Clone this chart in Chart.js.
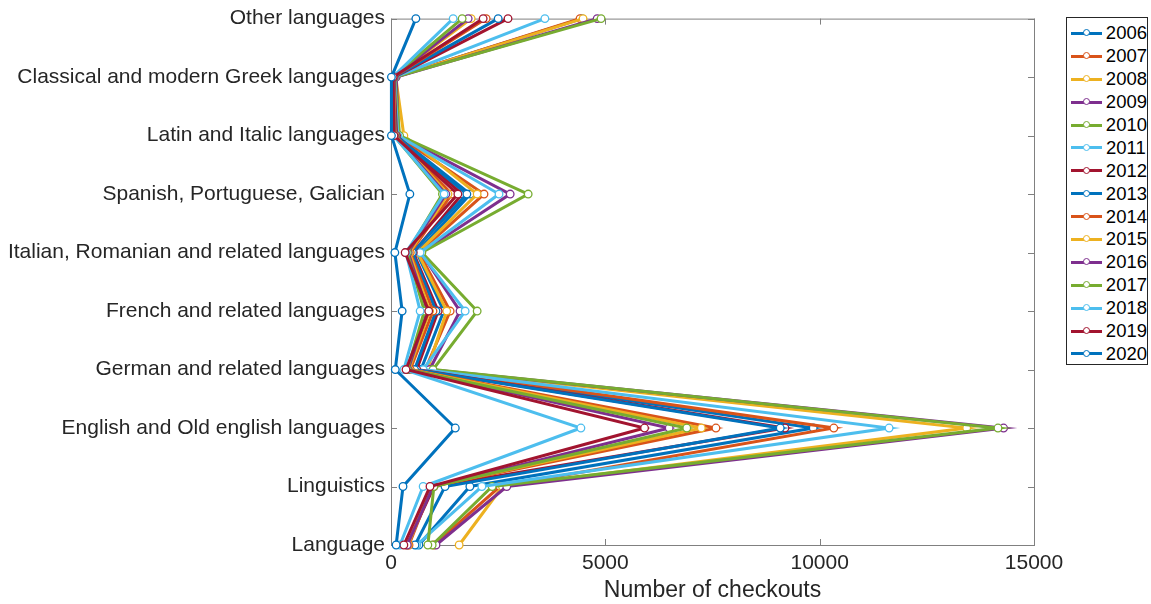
<!DOCTYPE html>
<html>
<head>
<meta charset="utf-8">
<script src="https://cdn.jsdelivr.net/npm/chart.js@4"></script>
<style>
  body { margin: 0; background: #fff; }
  #wrap { position: relative; width: 1151px; height: 604px; }
  #legend {
    position: absolute; left: 1066px; top: 17px; width: 82px; height: 348px;
    border: 1px solid #262626; background: #fff; box-sizing: border-box;
    padding-top: 4px; font-family: "Liberation Sans", Arial, sans-serif; font-size: 18.5px; color: #000;
  }
  .row { height: 22.9px; display: flex; align-items: center; }
  .sw { position: relative; width: 31px; height: 3px; margin-left: 4px; margin-right: 4px; }
  .sw span { position: absolute; left: 12px; top: -2.5px; width: 5px; height: 5px; border-radius: 50%; background: #fff; border: 1px solid; }
</style>
</head>
<body>
<div id="wrap">
  <canvas id="chart" width="1151" height="604"></canvas>
  <div id="legend"></div>
</div>
<script>
// categorias (de baixo para cima)
const categories = [
  'Language',
  'Linguistics',
  'English and Old english languages',
  'German and related languages',
  'French and related languages',
  'Italian, Romanian and related languages',
  'Spanish, Portuguese, Galician',
  'Latin and Italic languages',
  'Classical and modern Greek languages',
  'Other languages'
];

const years = ['2006','2007','2008','2009','2010','2011','2012','2013','2014','2015','2016','2017','2018','2019','2020'];

// empréstimos por ano, na ordem das categorias acima
const c2006 = [650, 1840, 9850, 700, 1230, 600, 1850, 120, 90, 4450];
const c2007 = [1000, 2540, 10330, 800, 1380, 650, 2170, 150, 100, 4410];
const c2008 = [1590, 2600, 13430, 850, 1300, 620, 2010, 300, 110, 4480];
const c2009 = [1050, 2700, 14290, 900, 1610, 700, 2780, 180, 120, 4810];
const c2010 = [960, 2360, 14160, 980, 2010, 720, 3200, 200, 90, 4900];
const c2011 = [600, 2120, 11620, 750, 1730, 680, 2520, 160, 80, 3590];
const c2012 = [370, 1000, 9190, 600, 1100, 520, 1660, 130, 70, 2730];
const c2013 = [560, 1260, 9080, 550, 1050, 500, 1770, 110, 60, 2500];
const c2014 = [420, 950, 7580, 450, 980, 450, 1420, 100, 60, 2220];
const c2015 = [400, 930, 7240, 420, 900, 430, 1330, 90, 50, 1870];
const c2016 = [380, 980, 6490, 400, 850, 400, 1280, 80, 50, 1800];
const c2017 = [860, 1000, 6900, 380, 780, 380, 1200, 70, 40, 1660];
const c2018 = [210, 750, 4430, 300, 680, 350, 1240, 60, 40, 1450];
const c2019 = [300, 910, 5915, 350, 880, 330, 1560, 70, 50, 2150];
const c2020 = [120, 280, 1500, 100, 260, 90, 440, 10, 10, 580];

const series = [c2006, c2007, c2008, c2009, c2010, c2011, c2012, c2013, c2014, c2015, c2016, c2017, c2018, c2019, c2020];

const xTicks = [0, 5000, 10000, 15000];

// cores padrão do MATLAB
const palette = ['#0072BD', '#D95319', '#EDB120', '#7E2F8E', '#77AC30', '#4DBEEE', '#A2142F'];

const FONT = '"Liberation Sans", Arial, Helvetica, sans-serif';
const AXIS = '#808080';

const datasets = series.map((vals, i) => ({
  label: years[i],
  data: vals,
  borderColor: palette[i % 7],
  backgroundColor: palette[i % 7],
  borderWidth: 3,
  pointRadius: 3.8,
  pointBorderWidth: 1.3,
  pointBackgroundColor: '#fff',
  pointBorderColor: palette[i % 7],
  tension: 0,
  clip: false,
  order: 14 - i
}));

// caixa e ticks para dentro, estilo MATLAB
const boxPlugin = {
  id: 'box',
  beforeDatasetsDraw(chart) {
    const { ctx, chartArea: a, scales } = chart;
    ctx.save();
    ctx.strokeStyle = AXIS;
    ctx.lineWidth = 1;
    ctx.strokeRect(a.left + 0.5, a.top + 0.5, a.right - a.left, a.bottom - a.top);
    const len = 6;
    ctx.beginPath();
    categories.forEach((c, i) => {
      const y = Math.round(scales.y.getPixelForValue(i)) + 0.5;
      ctx.moveTo(a.left, y); ctx.lineTo(a.left + len, y);
      ctx.moveTo(a.right, y); ctx.lineTo(a.right - len, y);
    });
    xTicks.forEach(v => {
      const x = Math.round(scales.x.getPixelForValue(v)) + 0.5;
      ctx.moveTo(x, a.bottom); ctx.lineTo(x, a.bottom - len);
      ctx.moveTo(x, a.top); ctx.lineTo(x, a.top + len);
    });
    ctx.stroke();
    ctx.restore();
  }
};

const ctx = document.getElementById('chart').getContext('2d');
new Chart(ctx, {
  type: 'line',
  data: { labels: categories, datasets },
  options: {
    indexAxis: 'y',
    responsive: false,
    animation: false,
    devicePixelRatio: 1,
    layout: { padding: { left: 0, top: 17, right: 117, bottom: 0 } },
    plugins: { legend: { display: false }, tooltip: { enabled: false } },
    scales: {
      y: {
        type: 'category',
        reverse: true,
        offset: false,
        grid: { display: false, drawTicks: false },
        border: { display: false },
        ticks: { color: '#262626', font: { family: FONT, size: 21 }, padding: 6, autoSkip: false },
        afterFit: s => { s.width = 391; }
      },
      x: {
        type: 'linear',
        min: 0,
        max: 15000,
        grid: { display: false, drawTicks: false },
        border: { display: false },
        afterBuildTicks: s => { s.ticks = xTicks.map(v => ({ value: v })); },
        ticks: { color: '#262626', font: { family: FONT, size: 21 }, padding: 6, maxRotation: 0, callback: v => String(v) },
        title: { display: true, text: 'Number of checkouts', color: '#262626', font: { family: FONT, size: 23 }, padding: { top: 0, bottom: 0 } },
        afterFit: s => { s.height = 59; }
      }
    }
  },
  plugins: [boxPlugin]
});

// legenda
const legend = document.getElementById('legend');
years.forEach((y, i) => {
  const col = palette[i % 7];
  const row = document.createElement('div');
  row.className = 'row';
  row.innerHTML = `<div class="sw" style="background:${col}"><span style="border-color:${col}"></span></div><div>${y}</div>`;
  legend.appendChild(row);
});
</script>
</body>
</html>
